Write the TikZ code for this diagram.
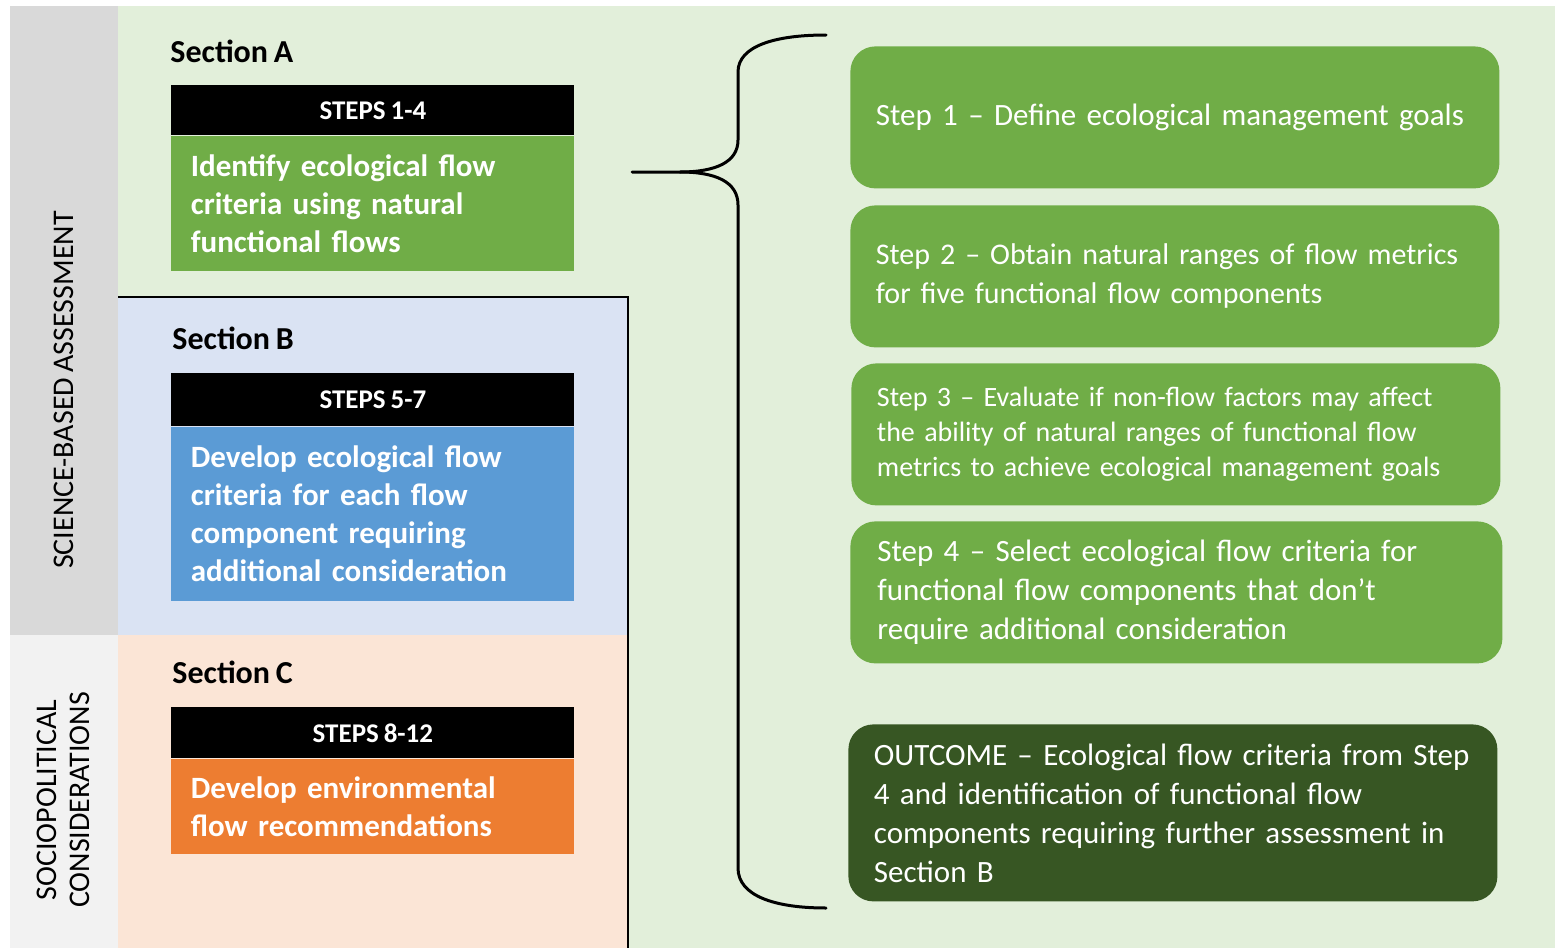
\documentclass[tikz,border=0pt]{standalone}
\usepackage{fontspec}
\setmainfont{Carlito}[WordSpace=0.8]
\usetikzlibrary{positioning}
\hyphenpenalty=10000
\definecolor{greyCol}{HTML}{D9D9D9}
\definecolor{sociCol}{HTML}{F2F2F2}
\definecolor{bgGreen}{HTML}{E2EFDA}
\definecolor{bgBlue}{HTML}{DAE3F3}
\definecolor{bgPeach}{HTML}{FBE5D6}
\definecolor{stepGreen}{HTML}{70AD47}
\definecolor{stepBlue}{HTML}{5B9BD5}
\definecolor{stepOrange}{HTML}{ED7D31}
\definecolor{darkGreen}{HTML}{375623}
\tikzset{
  secname/.style={anchor=west,font=\fontsize{16}{19}\selectfont\bfseries,inner sep=0pt},
  hdrbox/.style={fill=black,text=white,anchor=north west,minimum width=201.5pt,minimum height=25pt,
    inner sep=0pt,font=\fontsize{13.5}{16}\selectfont\bfseries},
  bodybox/.style={anchor=north,text=white,minimum width=201.5pt,text width=182pt,inner xsep=9.75pt,
    inner ysep=0pt,align=left,font=\fontsize{15.5}{19}\selectfont\bfseries},
  stepbox/.style={fill=stepGreen,text=white,rounded corners=12.5pt,anchor=north west,
    minimum width=324.5pt,minimum height=71pt,text width=299pt,inner xsep=12.75pt,align=left,
    font=\fontsize{15.5}{19.5}\selectfont},
  sidelabel/.style={rotate=90,align=center,font=\fontsize{15}{16.5}\selectfont},
  bracestyle/.style={line width=1.5pt,line cap=round}
}
\begin{document}
\begin{tikzpicture}[x=0.5pt,y=-0.5pt]
  \useasboundingbox (0,0) rectangle (1560,948);
  % backgrounds
  \fill[bgGreen] (118,6) rectangle (1555,948);
  \fill[greyCol] (10,6) rectangle (118,635);
  \fill[sociCol] (10,635) rectangle (118,948);
  \fill[bgBlue] (118,297) rectangle (628,635);
  \fill[bgPeach] (118,635) rectangle (628,948);
  \draw[line width=0.9pt] (118,297) -- (628,297) -- (628,948);
  \node[sidelabel] (sci) at (64,390) {SCIENCE-BASED ASSESSMENT};
  \node[sidelabel] (soc) at (63,800) {SOCIOPOLITICAL\\CONSIDERATIONS};
  % section A
  \node[secname] (secA) at (170,51) {Section A};
  \node[hdrbox] (hdrA) at (171,85) {STEPS 1-4};
  \node[bodybox,fill=stepGreen,minimum height=67.5pt] (bodyA) at (hdrA.south)
    {Identify ecological flow\\criteria using natural\\functional flows};
  % section B
  \node[secname] (secB) at (172,338) {Section B};
  \node[hdrbox,minimum height=26.5pt] (hdrB) at (171,373) {STEPS 5-7};
  \node[bodybox,fill=stepBlue,minimum height=87pt] (bodyB) at (hdrB.south)
    {Develop ecological flow\\criteria for each flow\\component requiring\\additional consideration};
  % section C
  \node[secname] (secC) at (172,672) {Section C};
  \node[hdrbox,minimum height=25.5pt] (hdrC) at (171,707) {STEPS 8-12};
  \node[bodybox,fill=stepOrange,minimum height=47.5pt] (bodyC) at (hdrC.south)
    {Develop environmental\\flow recommendations};
  % brace
  \coordinate (tip) at (632,172);
  \coordinate (fork) at (680,172);
  \coordinate (braceTop) at (826,35);
  \coordinate (braceBot) at (826,908);
  \draw[bracestyle] (tip) -- (fork) .. controls (716,172) and (738,162) .. (738,140)
    -- (738,72) .. controls (738,46) and (775,35) .. (braceTop);
  \draw[bracestyle] (fork) .. controls (716,172) and (738,182) .. (738,205)
    -- (738,868) .. controls (738,896) and (775,908) .. (braceBot);
  % steps 1-4 and outcome
  \node[stepbox] (step1) at (850,46) {Step 1 -- Define ecological management goals};
  \node[stepbox,font=\fontsize{15}{19.5}\selectfont] (step2) at (850,205)
    {Step 2 -- Obtain natural ranges of flow metrics\\for five functional flow components};
  \node[stepbox,font=\fontsize{14}{17.5}\selectfont] (step3) at (851,363)
    {Step 3 -- Evaluate if non-flow factors may affect\\the ability of natural ranges of functional flow\\metrics to achieve ecological management goals};
  \node[stepbox,minimum width=326pt] (step4) at (850,521)
    {Step 4 -- Select ecological flow criteria for\\functional flow components that don't\\require additional consideration};
  \node[stepbox,fill=darkGreen,minimum height=88.5pt] (outcome) at (848,724)
    {OUTCOME -- Ecological flow criteria from Step\\4 and identification of functional flow\\components requiring further assessment in\\Section B};
\end{tikzpicture}
\end{document}
